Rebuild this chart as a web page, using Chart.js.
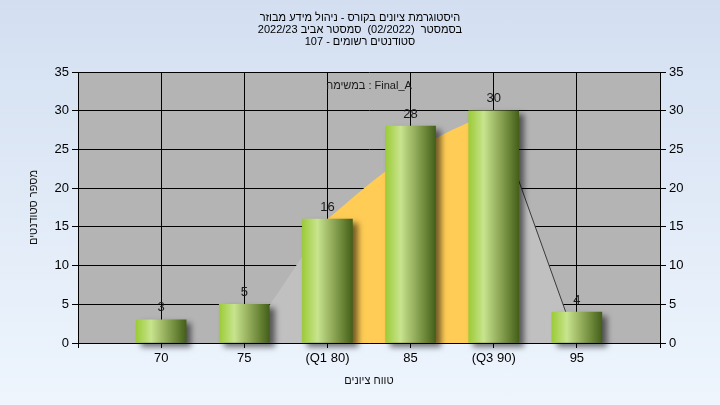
<!DOCTYPE html>
<html>
<head>
<meta charset="utf-8">
<script src="https://cdn.jsdelivr.net/npm/chart.js@4.4.0/dist/chart.umd.min.js"></script>
<style>
  html, body { margin: 0; padding: 0; }
  #wrap { width: 720px; height: 405px; background: linear-gradient(#d3dff1, #eef5fd); }
</style>
</head>
<body>
<div id="wrap"><canvas id="gradesChart" width="720" height="405" dir="rtl"></canvas></div>
<script>
// grades histogram data
const grades = [70, 75, 80, 85, 90, 95];
const gradeLabels = ['70', '75', '(Q1 80)', '85', '(Q3 90)', '95'];
const studentCounts = [3, 5, 16, 28, 30, 4];

// light grey area behind the bars (grade, students)
const spreadGrades = [75, 80, 90, 95];
const spreadValues = [0, 16, 30, 0];
// yellow band between Q1 and Q3
const iqrGrades = [80, 83.2, 86.6, 88.5, 90];
const iqrValues = [16, 21.7, 26.5, 28.5, 30];

const titleLines = [
  'היסטוגרמת ציונים בקורס - ניהול מידע מבוזר',
  'בסמסטר  (02/2022)  סמסטר אביב 2022/23',
  'סטודנטים רשומים - 107'
];
const taskText = 'Final_A : במשימה';
const yAxisTitle = 'מספר סטודנטים';
const xAxisTitle = 'טווח ציונים';

Chart.defaults.font.family = "'Liberation Sans', Arial, sans-serif";
Chart.defaults.color = '#000';

const toPoints = (xs, ys) => xs.map((x, i) => ({ x: x, y: ys[i] }));

// bar fill: cylinder-like horizontal gradient
function barGradient(c) {
  const chart = c.chart;
  if (!chart.chartArea || c.type !== 'data') return '#9fcc3a';
  const x = chart.scales.x.getPixelForValue(c.raw.x);
  const g = chart.ctx.createLinearGradient(x - 25, 0, x + 25, 0);
  g.addColorStop(0, '#9ccb38');
  g.addColorStop(0.3, '#c8e48e');
  g.addColorStop(0.55, '#9ab462');
  g.addColorStop(0.8, '#6b8638');
  g.addColorStop(1, '#445f1a');
  return g;
}

const gradesData = {
  datasets: [
    {
      type: 'bar',
      data: toPoints(grades, studentCounts),
      backgroundColor: barGradient,
      borderWidth: 0,
      barThickness: 50,
      clip: false,
      order: 0
    },
    {
      type: 'line',
      data: toPoints(spreadGrades.slice(2), spreadValues.slice(2)),
      borderColor: '#3a3a3a',
      borderWidth: 1,
      pointRadius: 0,
      fill: false,
      order: 1
    },
    {
      type: 'line',
      data: toPoints(iqrGrades, iqrValues),
      backgroundColor: '#ffcc55',
      borderWidth: 0,
      pointRadius: 0,
      cubicInterpolationMode: 'monotone',
      fill: 'origin',
      order: 2
    },
    {
      type: 'line',
      data: toPoints(spreadGrades, spreadValues),
      backgroundColor: '#c0c0c0',
      borderWidth: 0,
      pointRadius: 0,
      fill: 'origin',
      order: 3
    }
  ]
};

const plotPlugin = {
  id: 'plotDecor',
  beforeDraw: (chart) => {
    const { ctx, chartArea: a } = chart;
    ctx.save();
    ctx.fillStyle = '#b4b4b4';
    ctx.fillRect(a.left, a.top, a.right - a.left, a.bottom - a.top);
    ctx.restore();
  },
  beforeDatasetDraw: (chart, args) => {
    if (args.index !== 0) return;
    const ctx = chart.ctx;
    ctx.save();
    ctx.shadowColor = 'rgba(0, 0, 0, 0.55)';
    ctx.shadowBlur = 6;
    ctx.shadowOffsetX = 5;
    ctx.shadowOffsetY = 4;
  },
  afterDatasetDraw: (chart, args) => {
    if (args.index !== 0) return;
    chart.ctx.restore();
  },
  afterDatasetsDraw: (chart) => {
    const ctx = chart.ctx;
    const meta = chart.getDatasetMeta(0);
    ctx.save();
    ctx.font = "13px 'Liberation Sans', Arial, sans-serif";
    ctx.fillStyle = '#1a1a1a';
    ctx.textAlign = 'center';
    ctx.textBaseline = 'middle';
    meta.data.forEach((bar, i) => {
      ctx.fillText(String(studentCounts[i]), bar.x, bar.y - 12);
    });
    // task name at the top of the plot
    const a = chart.chartArea;
    ctx.font = "11px 'Liberation Sans', Arial, sans-serif";
    ctx.fillText(taskText, (a.left + a.right) / 2, a.top + 14);
    ctx.restore();
  }
};

const tickFont = { size: 13 };

const gradesConfig = {
  type: 'bar',
  data: gradesData,
  options: {
    responsive: false,
    animation: false,
    layout: { padding: 0 },
    plugins: {
      legend: { display: false },
      tooltip: { enabled: false },
      title: {
        display: true,
        text: titleLines,
        font: { size: 11, lineHeight: 12 / 11, weight: 'normal' },
        color: '#000',
        padding: { top: 11.5, bottom: 72 - 11.5 - 36 }
      }
    },
    scales: {
      x: {
        type: 'linear',
        min: 65,
        max: 100,
        offset: false,
        afterFit: (s) => { s.height = 62; },
        grid: { color: '#000', lineWidth: 1, offset: false, tickLength: 5 },
        border: { color: '#000' },
        ticks: {
          stepSize: 5,
          autoSkip: false,
          maxRotation: 0,
          padding: 3,
          font: tickFont,
          callback: (v) => {
            const i = grades.indexOf(v);
            return i >= 0 ? gradeLabels[i] : '';
          }
        },
        title: {
          display: true,
          text: xAxisTitle,
          font: { size: 11, lineHeight: 1.2 },
          color: '#111',
          padding: { top: 4, bottom: 17.5 }
        }
      },
      y: {
        position: 'left',
        min: 0,
        max: 35,
        afterFit: (s) => { s.width = 78; },
        grid: { color: '#000', lineWidth: 1, tickLength: 6 },
        border: { color: '#000' },
        ticks: { stepSize: 5, padding: 3, font: tickFont },
        title: {
          display: true,
          text: yAxisTitle,
          font: { size: 11, lineHeight: 1.2 },
          color: '#111',
          padding: { top: 27, bottom: 0 }
        }
      },
      y2: {
        position: 'right',
        min: 0,
        max: 35,
        afterFit: (s) => { s.width = 60; },
        grid: { color: '#000', lineWidth: 1, tickLength: 6, drawOnChartArea: false },
        border: { color: '#000' },
        ticks: { stepSize: 5, padding: 3, font: tickFont }
      }
    }
  },
  plugins: [plotPlugin]
};

const gradesChart = new Chart(document.getElementById('gradesChart'), gradesConfig);
</script>
</body>
</html>
